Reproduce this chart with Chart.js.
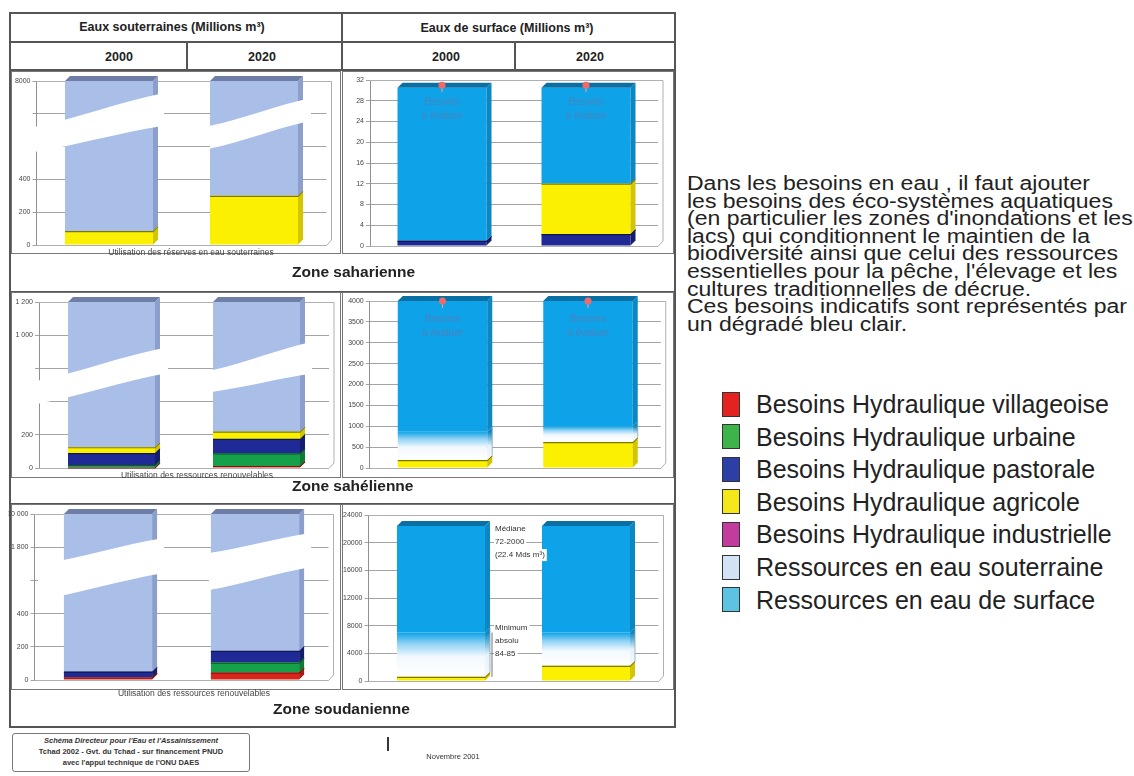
<!DOCTYPE html>
<html><head><meta charset="utf-8">
<script src="https://cdn.jsdelivr.net/npm/chart.js@4/dist/chart.umd.min.js"></script>
<style>
body{margin:0;background:#fff;width:1134px;height:776px;position:relative;overflow:hidden;font-family:"Liberation Sans",Arial,sans-serif;color:#222}
.ln{position:absolute;background:#555}
.cell{position:absolute;border:1px solid #777;box-sizing:border-box}
canvas{position:absolute}
.t{position:absolute;white-space:nowrap}
.hd{font-weight:bold;font-size:12.5px;transform:translateX(-50%);line-height:16px;color:#222}
.zone{font-weight:bold;font-size:15.5px;line-height:18px;color:#222}
.small{font-size:8.5px;color:#444;transform:translateX(-50%);line-height:10px}
.para{font-size:19.5px;line-height:18px;transform-origin:0 50%;transform:scaleX(1.18);color:#222}
.leg{font-size:25px;line-height:28px;color:#222}
.sq{position:absolute;width:18px;height:25px;border:1.5px solid #333;box-sizing:border-box}
.foot{font-size:7.5px;font-weight:bold;line-height:10px;transform:translateX(-50%);color:#333}
</style></head><body>

<!-- table frame -->
<div class="ln" style="left:9px;top:12px;width:667px;height:2px"></div>
<div class="ln" style="left:9px;top:41px;width:667px;height:1.5px"></div>
<div class="ln" style="left:9px;top:69px;width:667px;height:2px"></div>
<div class="ln" style="left:9px;top:12px;width:2px;height:716px"></div>
<div class="ln" style="left:674px;top:12px;width:2px;height:716px"></div>
<div class="ln" style="left:341px;top:12px;width:2px;height:58px"></div>
<div class="ln" style="left:186px;top:41px;width:1.5px;height:29px"></div>
<div class="ln" style="left:514px;top:41px;width:1.5px;height:29px"></div>
<div class="ln" style="left:9px;top:291px;width:667px;height:1.5px"></div>
<div class="ln" style="left:9px;top:503px;width:667px;height:1.5px"></div>
<div class="ln" style="left:9px;top:726px;width:667px;height:2px"></div>

<div class="cell" style="left:11px;top:71px;width:330px;height:183px"></div>
<div class="cell" style="left:342px;top:71px;width:332px;height:183px"></div>
<div class="cell" style="left:11px;top:292px;width:330px;height:186px"></div>
<div class="cell" style="left:342px;top:292px;width:332px;height:186px"></div>
<div class="cell" style="left:11px;top:504px;width:330px;height:186px"></div>
<div class="cell" style="left:342px;top:504px;width:332px;height:186px"></div>

<div class="t hd" style="left:172px;top:19px">Eaux souterraines (Millions m³)</div>
<div class="t hd" style="left:507px;top:20px">Eaux de surface (Millions m³)</div>
<div class="t hd" style="left:119px;top:49px">2000</div>
<div class="t hd" style="left:262px;top:49px">2020</div>
<div class="t hd" style="left:446px;top:49px">2000</div>
<div class="t hd" style="left:590px;top:49px">2020</div>

<canvas id="c1" width="338" height="181" style="left:2px;top:72px"></canvas>
<canvas id="c2" width="330" height="181" style="left:343px;top:72px"></canvas>
<canvas id="c3" width="338" height="184" style="left:2px;top:293px"></canvas>
<canvas id="c4" width="330" height="184" style="left:343px;top:293px"></canvas>
<canvas id="c5" width="338" height="185" style="left:2px;top:505px"></canvas>
<canvas id="c6" width="330" height="184" style="left:343px;top:505px"></canvas>

<div class="t small" style="left:191px;top:247px">Utilisation des réserves en eau souterraines</div>
<div class="t small" style="left:197px;top:470px">Utilisation des ressources renouvelables</div>
<div class="t small" style="left:194px;top:688px">Utilisation des ressources renouvelables</div>

<div class="t zone" style="left:292px;top:263px">Zone saharienne</div>
<div class="t zone" style="left:292px;top:477px">Zone sahélienne</div>
<div class="t zone" style="left:273px;top:700px">Zone soudanienne</div>

<!-- footer -->
<div class="cell" style="left:12px;top:733px;width:238px;height:39px;border-radius:3px"></div>
<div class="t foot" style="left:131px;top:736px;font-style:italic">Schéma Directeur pour l'Eau et l'Assainissement</div>
<div class="t foot" style="left:131px;top:747px">Tchad 2002 - Gvt. du Tchad - sur financement PNUD</div>
<div class="t foot" style="left:131px;top:758px">avec l'appui technique de l'ONU DAES</div>
<div class="ln" style="left:387px;top:737px;width:1.5px;height:14px;background:#333"></div>
<div class="t foot" style="left:453px;top:752px;font-weight:normal">Novembre 2001</div>

<div id="para"></div>
<div id="legend"></div>

<script>
// ---------------- DATA ----------------
const years = ['2000', '2020'];

// Zone saharienne – eaux souterraines (axe brisé : unités de l'échelle affichée)
const sahGwAgricole   = [85, 300];
const sahGwRessource  = [915, 700];
const sahGwTickLabels = ['0', '200', '400', '', '', '8000'];

// Zone saharienne – eaux de surface
const sahSwPastorale = [1, 2.3];
const sahSwAgricole  = [0, 9.7];
const sahSwRessource = [29.5, 18.5];
const sahSwBesoins   = [31, 31];

// Zone sahélienne – eaux souterraines
const sahelGwVillageoise = [3, 12];
const sahelGwUrbaine     = [15, 76];
const sahelGwPastorale   = [72, 87];
const sahelGwAgricole    = [35, 44];
const sahelGwRessource   = [875, 781];
const sahelGwTickLabels  = ['0', '200', '', '', '1 000', '1 200'];

// Zone sahélienne – eaux de surface
const sahelSwAgricole  = [190, 620];
const sahelSwEco       = [680, 380];
const sahelSwRessource = [3130, 3000];
const sahelSwBesoins   = [4000, 4000];

// Zone soudanienne – eaux souterraines
const soudGwVillageoise = [15, 45];
const soudGwUrbaine     = [0, 60];
const soudGwPastorale   = [35, 70];
const soudGwRessource   = [950, 825];
const soudGwTickLabels  = ['0', '200', '400', '', '1 800', '10 000'];

// Zone soudanienne – eaux de surface
const soudSwAgricole  = [600, 2200];
const soudSwEco       = [6400, 4800];
const soudSwRessource = [15400, 15400];
const soudSwMediane   = 22400;
const soudSwMinimum   = 7000;

const besoinsTexte = ['Besoins', 'à évaluer'];
const medianeTexte = ['Médiane', '72-2000', '(22.4 Mds m³)'];
const minimumTexte = ['Minimum', 'absolu', '84-85'];

const paraLines = [
  "Dans les besoins en eau , il faut ajouter",
  "les besoins des éco-systèmes aquatiques",
  "(en particulier les zones d'inondations et les",
  "lacs) qui conditionnent le maintien de la",
  "biodiversité ainsi que celui des ressources",
  "essentielles pour la pêche, l'élevage et les",
  "cultures traditionnelles de décrue.",
  "Ces besoins indicatifs sont représentés par",
  "un dégradé bleu clair."
];
const legendLabels = [
  'Besoins Hydraulique villageoise',
  'Besoins Hydraulique urbaine',
  'Besoins Hydraulique pastorale',
  'Besoins Hydraulique agricole',
  'Besoins Hydraulique industrielle',
  'Ressources en eau souterraine',
  'Ressources en eau de surface'
];
const legendColors = ['#e2231f', '#3db449', '#2b3fa6', '#f4e81a', '#c23c9e', '#d2e3f3', '#5cc3e2'];

// ---------------- STYLES ----------------
const COL = {
  vill:  {bg:'#d8261c', side:'#a81a12', edge:'#801510'},
  urb:   {bg:'#17a04a', side:'#0f7a36', edge:'#0b5a28'},
  past:  {bg:'#1f2a96', side:'#151d6e', edge:'#10164f'},
  agri:  {bg:'#faf000', side:'#d3c500', edge:'#7f7800'},
  gw:    {bg:'#a9bfe8', side:'#8c9fcc', top:'#6f7ea6'},
  sw:    {bg:'#0ea3e8', side:'#0b87c2', top:'#0a70a4'}
};
const D = 5;
const AXIS_W = 26;

function ds(label, data, c, extra) {
  return Object.assign({label, data, backgroundColor:c.bg, sideColor:c.side, topColor:c.top || c.side, edgeColor:c.edge, borderWidth:0}, extra || {});
}
function stackStart(chart, dsIndex, i) {
  let s = 0;
  chart.data.datasets.forEach((d, k) => { if (k < dsIndex && (d.type || 'bar') === 'bar') s += d.data[i] || 0; });
  return s;
}
function ecoGradient(ctx) {
  const chart = ctx.chart, y = chart.scales && chart.scales.y;
  if (!y || ctx.type !== 'data') return '#e8f4fc';
  const s = stackStart(chart, ctx.datasetIndex, ctx.dataIndex);
  const e = s + chart.data.datasets[ctx.datasetIndex].data[ctx.dataIndex];
  const y0 = y.getPixelForValue(s), y1 = y.getPixelForValue(e);
  if (!isFinite(y0) || !isFinite(y1) || y0 === y1) return '#e8f4fc';
  const g = chart.ctx.createLinearGradient(0, y0, 0, y1);
  g.addColorStop(0, '#ffffff'); g.addColorStop(0.45, '#f2f9fe'); g.addColorStop(0.75, '#8fd2f4'); g.addColorStop(1, COL.sw.bg);
  return g;
}
function marker(data) {
  return {type:'line', label:'besoins', data, showLine:false, pointRadius:3.5, pointBackgroundColor:'#f06a6a', pointBorderWidth:0};
}

// ---------------- PLUGINS ----------------
const threeD = {
  id: 'threeD',
  afterDatasetsDraw(chart) {
    const c = chart.ctx, n = chart.data.labels.length;
    const all = chart.data.datasets.map((d, i) => ({d, i, meta: chart.getDatasetMeta(i)}));
    const list = all.filter(o => o.meta.type === 'bar');
    for (let j = 0; j < n; j++) {
      let top = null;
      list.forEach(({d, meta}) => {
        const el = meta.data[j];
        if (!el || !d.data[j]) return;
        const p = el.getProps(['x', 'y', 'base', 'width'], true);
        const l = p.x - p.width / 2, r = p.x + p.width / 2;
        let side = d.sideColor;
        if (d.eco) {
          side = c.createLinearGradient(0, p.base, 0, p.y);
          side.addColorStop(0, '#f4f8fb'); side.addColorStop(0.5, '#e6f2fa'); side.addColorStop(1, COL.sw.side);
        }
        c.fillStyle = side;
        c.beginPath(); c.moveTo(r, p.y); c.lineTo(r + D, p.y - D); c.lineTo(r + D, p.base - D); c.lineTo(r, p.base); c.closePath(); c.fill();
        if (d.eco) { c.strokeStyle = '#8aa4b8'; c.lineWidth = 0.8; c.beginPath(); c.moveTo(r + D, p.base - D); c.lineTo(r + D, p.y - D); c.stroke(); }
        if (d.edgeColor) {
          c.strokeStyle = d.edgeColor; c.lineWidth = 1.2;
          c.beginPath(); c.moveTo(l, p.y + 0.5); c.lineTo(r, p.y + 0.5); c.lineTo(r + D, p.y - D + 0.5); c.stroke();
        }
        if (!top || p.y < top.p.y) top = {p, l, r, d};
      });
      if (top) {
        const {p, l, r, d} = top;
        c.fillStyle = d.topColor;
        c.beginPath(); c.moveTo(l, p.y); c.lineTo(l + D, p.y - D); c.lineTo(r + D, p.y - D); c.lineTo(r, p.y); c.closePath(); c.fill();
      }
    }
    // marker points above the 3D faces
    all.filter(o => o.meta.type === 'line').forEach(o => {
      c.save();
      o.meta.data.forEach(pt => {
        c.strokeStyle = '#f2a0a0'; c.lineWidth = 1;
        c.beginPath(); c.moveTo(pt.x, pt.y); c.lineTo(pt.x, pt.y + 7); c.stroke();
      });
      c.restore();
      o.meta.controller.draw();
    });
  }
};
const breaks = {
  id: 'breaks',
  afterDatasetsDraw(chart, args, o) {
    if (!o || !o.bands) return;
    const c = chart.ctx, y = chart.scales.y, meta = chart.getDatasetMeta(0);
    o.bands.forEach((b, j) => {
      const el = meta.data[j]; if (!el) return;
      const xl = el.x - el.width / 2 - b.extL, xr = el.x + el.width / 2 + D + b.extR;
      const py = v => y.getPixelForValue(v);
      c.fillStyle = '#ffffff';
      c.beginPath();
      c.moveTo(xl, py(b.l[1]));
      c.bezierCurveTo((xl * 2 + xr) / 3, py(b.l[1] + (b.r[1] - b.l[1]) * 0.25), (xl + xr * 2) / 3, py(b.l[1] + (b.r[1] - b.l[1]) * 0.75), xr, py(b.r[1]));
      c.lineTo(xr, py(b.r[0]));
      c.bezierCurveTo((xl + xr * 2) / 3, py(b.l[0] + (b.r[0] - b.l[0]) * 0.75), (xl * 2 + xr) / 3, py(b.l[0] + (b.r[0] - b.l[0]) * 0.25), xl, py(b.l[0]));
      c.closePath(); c.fill();
    });
  }
};
const barText = {
  id: 'barText',
  afterDatasetsDraw(chart, args, o) {
    if (!o || !o.lines) return;
    const c = chart.ctx, y = chart.scales.y, meta = chart.getDatasetMeta(0);
    c.save(); c.font = '10px "Liberation Sans"'; c.fillStyle = '#4a82bf'; c.textAlign = 'center'; c.textBaseline = 'middle';
    meta.data.forEach(el => {
      const top = y.getPixelForValue(o.value);
      o.lines.forEach((t, k) => c.fillText(t, el.x, top + o.dy + k * 14));
    });
    c.restore();
  }
};
const notes = {
  id: 'notes',
  afterDatasetsDraw(chart, args, o) {
    if (!o || !o.items) return;
    const c = chart.ctx, y = chart.scales.y, el = chart.getDatasetMeta(0).data[0];
    const x0 = el.x + el.width / 2 + D + 5;
    c.save(); c.font = '8px "Liberation Sans"'; c.textBaseline = 'middle';
    o.items.forEach(it => {
      const yp = y.getPixelForValue(it.value);
      it.lines.forEach((t, k) => {
        const ty = yp + it.dy + k * 13;
        const w = c.measureText(t).width;
        c.fillStyle = '#ffffff'; c.fillRect(x0 - 1, ty - 6, w + 3, 12);
        c.fillStyle = '#333'; c.fillText(t, x0, ty);
      });
    });
    c.strokeStyle = '#777'; c.lineWidth = 1;
    const yb = y.getPixelForValue(o.bracket[0]), yt = y.getPixelForValue(o.bracket[1]);
    c.beginPath(); c.moveTo(x0 - 3, yb); c.lineTo(x0 - 3, yt); c.stroke();
    c.restore();
  }
};
const wall = {
  id: 'wall',
  beforeDatasetsDraw(chart) {
    const {ctx: c, chartArea: a} = chart;
    c.save(); c.strokeStyle = '#b0b0b0'; c.lineWidth = 1;
    c.beginPath(); c.moveTo(a.left, a.top + 0.5); c.lineTo(a.right + D, a.top + 0.5); c.lineTo(a.right + D, a.bottom - D);
    c.moveTo(a.left, a.bottom + 0.5); c.lineTo(a.right, a.bottom + 0.5); c.lineTo(a.right + D, a.bottom - D); c.stroke();
    c.restore();
  }
};

function makeChart(id, cfg) {
  const cv = document.getElementById(id);
  const yTicks = {stepSize: cfg.step, autoSkip: false, font: {size: 7, family: 'Liberation Sans'}, color: '#444', padding: 2,
                  callback: cfg.tickLabels ? ((v, i) => cfg.tickLabels[i]) : (v => String(v))};
  return new Chart(cv, {
    type: 'bar',
    data: {labels: years, datasets: cfg.datasets},
    options: {
      responsive: false, animation: false, devicePixelRatio: 1,
      layout: {padding: {left: cfg.plot[0] - AXIS_W, right: cv.width - cfg.plot[1], top: cfg.plot[2], bottom: cv.height - cfg.plot[3]}},
      datasets: {bar: {categoryPercentage: 1, barPercentage: cfg.barPct}},
      plugins: {legend: {display: false}, tooltip: {enabled: false}, breaks: cfg.breaks, barText: cfg.barText, notes: cfg.notes},
      scales: {
        x: {stacked: true, display: false},
        y: {stacked: true, min: 0, max: cfg.max, afterFit: s => { s.width = AXIS_W; }, ticks: yTicks,
            grid: {color: '#a4a4a4', lineWidth: 1, tickLength: 4}, border: {color: '#909090'}}
      }
    },
    plugins: [wall, threeD, breaks, barText, notes]
  });
}

function safe(f) { try { f(); } catch (e) { console.error(e); } }

// Saharienne – souterraines
safe(() => makeChart('c1', {
  max: 1000, step: 200, tickLabels: sahGwTickLabels, plot: [34.5, 324.5, 9, 173], barPct: 0.607,
  datasets: [ds('Besoins Hydraulique agricole', sahGwAgricole, COL.agri), ds('Ressources en eau souterraine', sahGwRessource, COL.gw, {edgeColor: null})],
  breaks: {bands: [{extL: 34, extR: 6, l: [564, 715], r: [727, 927]}, {extL: 0, extR: 8, l: [588, 727], r: [758, 897]}]}
}));
// Saharienne – surface
safe(() => makeChart('c2', {
  max: 32, step: 4, plot: [27, 315, 8, 174], barPct: 0.618,
  datasets: [ds('Besoins Hydraulique pastorale', sahSwPastorale, COL.past), ds('Besoins Hydraulique agricole', sahSwAgricole, COL.agri),
             ds('Ressources en eau de surface', sahSwRessource, COL.sw, {edgeColor: null}), marker(sahSwBesoins)],
  barText: {lines: besoinsTexte, value: 30.5, dy: 14}
}));
// Sahélienne – souterraines
safe(() => makeChart('c3', {
  max: 1000, step: 200, tickLabels: sahelGwTickLabels, plot: [37, 327, 9, 175], barPct: 0.6,
  datasets: [ds('Besoins Hydraulique villageoise', sahelGwVillageoise, COL.vill), ds('Besoins Hydraulique urbaine', sahelGwUrbaine, COL.urb),
             ds('Besoins Hydraulique pastorale', sahelGwPastorale, COL.past), ds('Besoins Hydraulique agricole', sahelGwAgricole, COL.agri),
             ds('Ressources en eau souterraine', sahelGwRessource, COL.gw, {edgeColor: null})],
  breaks: {bands: [{extL: 36, extR: 8, l: [380, 518], r: [572, 729]}, {extL: 0, extR: 7, l: [460, 590], r: [570, 760]}]}
}));
// Sahélienne – surface
safe(() => makeChart('c4', {
  max: 4000, step: 500, plot: [26.75, 317.75, 8, 175], barPct: 0.615,
  datasets: [ds('Besoins Hydraulique agricole', sahelSwAgricole, COL.agri),
             ds('Besoins des éco-systèmes aquatiques', sahelSwEco, COL.sw, {backgroundColor: ecoGradient, eco: true, edgeColor: null}),
             ds('Ressources en eau de surface', sahelSwRessource, COL.sw, {edgeColor: null}), marker(sahelSwBesoins)],
  barText: {lines: besoinsTexte, value: 4000, dy: 18}
}));
// Soudanienne – souterraines
safe(() => makeChart('c5', {
  max: 1000, step: 200, tickLabels: soudGwTickLabels, plot: [32.5, 326.5, 9, 175], barPct: 0.6,
  datasets: [ds('Besoins Hydraulique villageoise', soudGwVillageoise, COL.vill), ds('Besoins Hydraulique urbaine', soudGwUrbaine, COL.urb),
             ds('Besoins Hydraulique pastorale', soudGwPastorale, COL.past),
             ds('Ressources en eau souterraine', soudGwRessource, COL.gw, {edgeColor: null})],
  breaks: {bands: [{extL: 26, extR: 7, l: [482, 693], r: [645, 855]}, {extL: 2, extR: 7, l: [542, 765], r: [681, 886]}]}
}));
// Soudanienne – surface
safe(() => makeChart('c6', {
  max: 24000, step: 4000, plot: [25.5, 315.5, 10, 176], barPct: 0.607,
  datasets: [ds('Besoins Hydraulique agricole', soudSwAgricole, COL.agri),
             ds('Besoins des éco-systèmes aquatiques', soudSwEco, COL.sw, {backgroundColor: ecoGradient, eco: true, edgeColor: null}),
             ds('Ressources en eau de surface', soudSwRessource, COL.sw, {edgeColor: null})],
  notes: {items: [{lines: medianeTexte, value: soudSwMediane, dy: 3}, {lines: minimumTexte, value: soudSwMinimum, dy: -5}],
          bracket: [soudSwAgricole[0], soudSwMinimum]}
}));

// ---------------- TEXT & LEGEND ----------------
const para = document.getElementById('para');
paraLines.forEach((t, i) => {
  const d = document.createElement('div');
  d.className = 't para'; d.textContent = t;
  d.style.left = '687px'; d.style.top = (174 + i * 17.6) + 'px';
  para.appendChild(d);
});
const leg = document.getElementById('legend');
legendLabels.forEach((t, i) => {
  const cy = 404 + i * 32.6;
  const s = document.createElement('div');
  s.className = 'sq'; s.style.left = '722px'; s.style.top = (cy - 12.5) + 'px'; s.style.background = legendColors[i];
  leg.appendChild(s);
  const d = document.createElement('div');
  d.className = 't leg'; d.textContent = t; d.style.left = '756px'; d.style.top = (cy - 14) + 'px';
  leg.appendChild(d);
});
</script>
</body></html>
